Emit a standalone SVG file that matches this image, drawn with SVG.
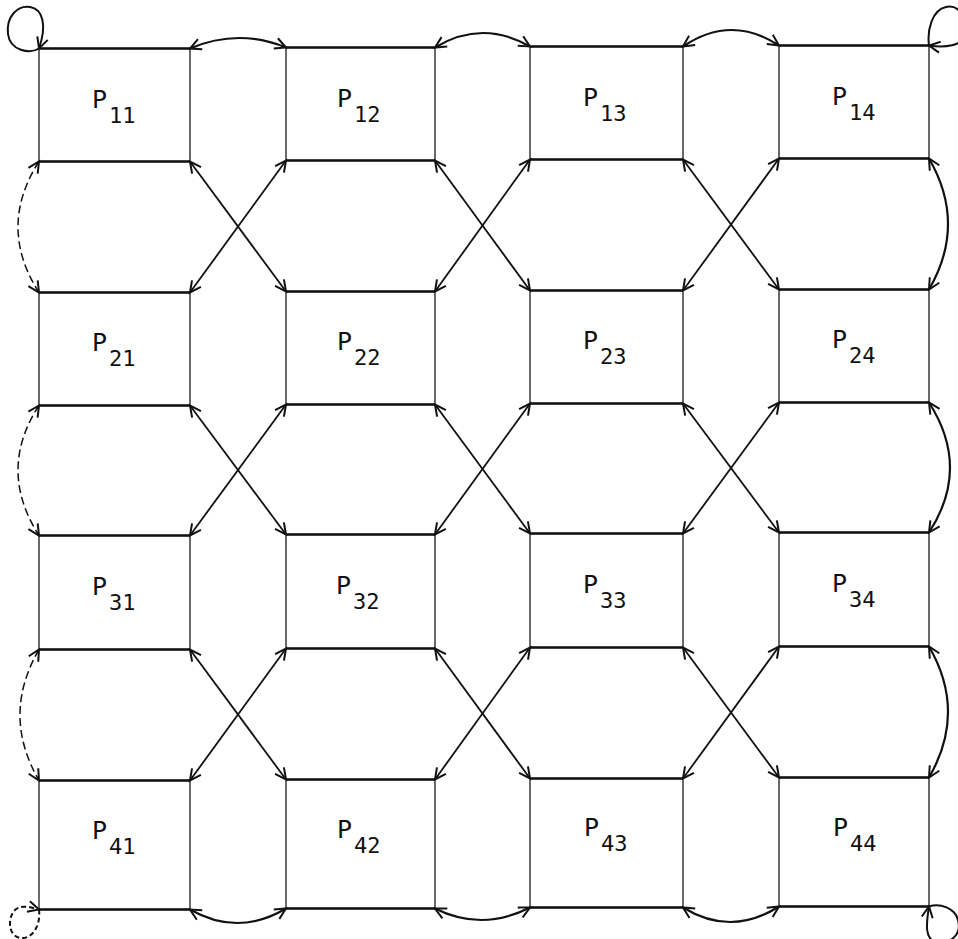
<svg xmlns="http://www.w3.org/2000/svg" width="958" height="939" viewBox="0 0 958 939">
<style>
.bg{fill:#fff}
.box{fill:none;stroke:#1a1a1a;stroke-width:1.3}
.he{fill:none;stroke:#111;stroke-width:2.3}
.lbl{font-family:"DejaVu Sans Mono","Liberation Mono",monospace;font-size:25px;fill:#111}
.sub{font-size:22px}
.c{fill:none;stroke:#111;stroke-width:1.8;marker-start:url(#ah);marker-end:url(#ah)}
.arc{stroke-width:2.2}
.dash{stroke-width:1.5;stroke-dasharray:8 4}
.loop{fill:none;stroke:#111;stroke-width:2;marker-end:url(#ah)}
</style>
<defs>
<marker id="ah" viewBox="-13 -8 15 16" refX="0" refY="0" markerWidth="15" markerHeight="16" markerUnits="userSpaceOnUse" orient="auto-start-reverse" overflow="visible">
<path d="M-11,-5.5 L0,0 L-11,5.5" fill="none" stroke="#111" stroke-width="2"/>
</marker>
</defs>
<rect class="bg" x="0" y="0" width="958" height="939"/>

<g id="connectors">
<path class="c arc" d="M190,48.5 Q238,28 286,47.5"/>
<path class="c arc" d="M435,47.5 Q482,19 530,46.5"/>
<path class="c arc" d="M683,46.5 Q731,14 779,45.5"/>
<path class="c arc" d="M190,909.5 Q238,937 286,908.5"/>
<path class="c arc" d="M435,908.5 Q482,932 530,907.5"/>
<path class="c arc" d="M683,907.5 Q731,937 779,906.5"/>
<path class="c dash" d="M39,161.5 Q-3,227 39,292.5"/>
<path class="c dash" d="M39,405.5 Q-3,470 39,535.5"/>
<path class="c dash" d="M39,649.5 Q1,715 39,780.5"/>
<path class="c arc" d="M929,158.5 Q967,224 929,289.5"/>
<path class="c arc" d="M929,402.5 Q971,468 929,532.5"/>
<path class="c arc" d="M929,646.5 Q967,712 929,777.5"/>
<path class="c" d="M190,161.5 L286,291.5"/>
<path class="c" d="M286,160.5 L190,292.5"/>
<path class="c" d="M435,160.5 L530,290.5"/>
<path class="c" d="M530,159.5 L435,291.5"/>
<path class="c" d="M683,159.5 L779,289.5"/>
<path class="c" d="M779,158.5 L683,290.5"/>
<path class="c" d="M190,405.5 L286,534.5"/>
<path class="c" d="M286,404.5 L190,535.5"/>
<path class="c" d="M435,404.5 L530,533.5"/>
<path class="c" d="M530,403.5 L435,534.5"/>
<path class="c" d="M683,403.5 L779,532.5"/>
<path class="c" d="M779,402.5 L683,533.5"/>
<path class="c" d="M190,649.5 L286,779.5"/>
<path class="c" d="M286,648.5 L190,780.5"/>
<path class="c" d="M435,648.5 L530,778.5"/>
<path class="c" d="M530,647.5 L435,779.5"/>
<path class="c" d="M683,647.5 L779,777.5"/>
<path class="c" d="M779,646.5 L683,778.5"/>
<path class="loop" d="M39,48.5 C30,54 10,51 8,34 C6,16 18,5 30,7 C43,9 47,25 39,48.5"/>
<path class="loop" d="M929,45.5 C927,30 932,10 946,7 C960,4 968,20 965,35 C962,46 945,48 929,45.5"/>
<path class="loop" stroke-dasharray="5 3" d="M39,909.5 C41,926 32,939 21,938 C9,937 7,920 14,911 C20,904 30,907 39,909.5"/>
<path class="loop" d="M929,906.5 C940,903 955,908 958,920 C962,935 950,945 935,942 C925,938 926,925 929,906.5"/>
</g>

<g id="P11"><rect class="box" x="39" y="48.5" width="151" height="113"/><path class="he" d="M39,48.5H190M39,161.5H190"/><text class="lbl" x="92" y="107.5">P<tspan class="sub" dx="2" dy="15">11</tspan></text></g>
<g id="P12"><rect class="box" x="286" y="47.5" width="149" height="113"/><path class="he" d="M286,47.5H435M286,160.5H435"/><text class="lbl" x="337" y="106.5">P<tspan class="sub" dx="2" dy="15">12</tspan></text></g>
<g id="P13"><rect class="box" x="530" y="46.5" width="153" height="113"/><path class="he" d="M530,46.5H683M530,159.5H683"/><text class="lbl" x="583" y="105.5">P<tspan class="sub" dx="2" dy="15">13</tspan></text></g>
<g id="P14"><rect class="box" x="779" y="45.5" width="150" height="113"/><path class="he" d="M779,45.5H929M779,158.5H929"/><text class="lbl" x="832" y="104.5">P<tspan class="sub" dx="2" dy="15">14</tspan></text></g>

<g id="P21"><rect class="box" x="39" y="292.5" width="151" height="113"/><path class="he" d="M39,292.5H190M39,405.5H190"/><text class="lbl" x="92" y="350.5">P<tspan class="sub" dx="2" dy="15">21</tspan></text></g>
<g id="P22"><rect class="box" x="286" y="291.5" width="149" height="113"/><path class="he" d="M286,291.5H435M286,404.5H435"/><text class="lbl" x="337" y="349.5">P<tspan class="sub" dx="2" dy="15">22</tspan></text></g>
<g id="P23"><rect class="box" x="530" y="290.5" width="153" height="113"/><path class="he" d="M530,290.5H683M530,403.5H683"/><text class="lbl" x="583" y="348.5">P<tspan class="sub" dx="2" dy="15">23</tspan></text></g>
<g id="P24"><rect class="box" x="779" y="289.5" width="150" height="113"/><path class="he" d="M779,289.5H929M779,402.5H929"/><text class="lbl" x="832" y="347.5">P<tspan class="sub" dx="2" dy="15">24</tspan></text></g>

<g id="P31"><rect class="box" x="39" y="535.5" width="151" height="114"/><path class="he" d="M39,535.5H190M39,649.5H190"/><text class="lbl" x="92" y="594.5">P<tspan class="sub" dx="2" dy="15">31</tspan></text></g>
<g id="P32"><rect class="box" x="286" y="534.5" width="149" height="114"/><path class="he" d="M286,534.5H435M286,648.5H435"/><text class="lbl" x="336" y="594">P<tspan class="sub" dx="2" dy="15">32</tspan></text></g>
<g id="P33"><rect class="box" x="530" y="533.5" width="153" height="114"/><path class="he" d="M530,533.5H683M530,647.5H683"/><text class="lbl" x="583" y="592.5">P<tspan class="sub" dx="2" dy="15">33</tspan></text></g>
<g id="P34"><rect class="box" x="779" y="532.5" width="150" height="114"/><path class="he" d="M779,532.5H929M779,646.5H929"/><text class="lbl" x="832" y="591.5">P<tspan class="sub" dx="2" dy="15">34</tspan></text></g>

<g id="P41"><rect class="box" x="39" y="780.5" width="151" height="129"/><path class="he" d="M39,780.5H190M39,909.5H190"/><text class="lbl" x="92" y="839">P<tspan class="sub" dx="2" dy="15">41</tspan></text></g>
<g id="P42"><rect class="box" x="286" y="779.5" width="149" height="129"/><path class="he" d="M286,779.5H435M286,908.5H435"/><text class="lbl" x="337" y="838">P<tspan class="sub" dx="2" dy="15">42</tspan></text></g>
<g id="P43"><rect class="box" x="530" y="778.5" width="153" height="129"/><path class="he" d="M530,778.5H683M530,907.5H683"/><text class="lbl" x="584" y="836">P<tspan class="sub" dx="2" dy="15">43</tspan></text></g>
<g id="P44"><rect class="box" x="779" y="777.5" width="150" height="129"/><path class="he" d="M779,777.5H929M779,906.5H929"/><text class="lbl" x="833" y="836">P<tspan class="sub" dx="2" dy="15">44</tspan></text></g>
</svg>
